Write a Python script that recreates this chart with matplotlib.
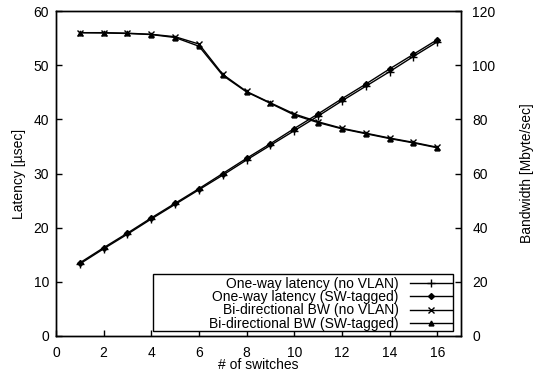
import matplotlib
matplotlib.use("Agg")
import matplotlib.pyplot as plt
from matplotlib.patches import Rectangle

switches = [1, 2, 3, 4, 5, 6, 7, 8, 9, 10, 11, 12, 13, 14, 15, 16]
lat_novlan = [13.3, 16.1, 18.8, 21.6, 24.3, 27.0, 29.7, 32.5, 35.2, 37.9, 40.6, 43.4, 46.1, 48.8, 51.6, 54.3]
lat_tagged = [13.5, 16.3, 19.0, 21.8, 24.5, 27.2, 30.0, 32.8, 35.5, 38.3, 41.0, 43.8, 46.5, 49.3, 52.0, 54.7]
bw_novlan = [112.0, 112.0, 111.8, 111.4, 110.5, 107.8, 96.6, 90.3, 86.1, 82.0, 79.1, 76.7, 74.9, 73.1, 71.5, 69.7]
bw_tagged = [112.0, 111.9, 111.7, 111.3, 110.2, 107.0, 96.2, 90.1, 85.9, 81.6, 78.8, 76.5, 74.7, 72.9, 71.3, 69.5]

plt.rcParams['font.family'] = ['Liberation Sans', 'DejaVu Sans']
plt.rcParams['font.size'] = 10

fig = plt.figure(figsize=(5.42, 3.73), dpi=100)
ax = fig.add_axes([0.1033, 0.0992, 0.7473, 0.8713])
ax2 = ax.twinx()

l1, = ax.plot(switches, lat_novlan, color='black', lw=1, marker='+', ms=6, mew=1)
l2, = ax.plot(switches, lat_tagged, color='black', lw=1, marker='D', ms=3)
l3, = ax2.plot(switches, bw_novlan, color='black', lw=1, marker='x', ms=5, mew=1)
l4, = ax2.plot(switches, bw_tagged, color='black', lw=1, marker='^', ms=3.5)

ax.set_xlim(0, 17)
ax.set_ylim(0, 60)
ax2.set_ylim(0, 120)
ax.set_xticks(range(0, 17, 2))
ax.set_yticks(range(0, 61, 10))
ax2.set_yticks(range(0, 121, 20))

ax.set_xlabel('# of switches', labelpad=-1)
ax.set_ylabel('Latency [\u00b5sec]', labelpad=5)
ax2.set_ylabel('Bandwidth [Mbyte/sec]', labelpad=18)

ax.tick_params(direction='in', length=4, width=1, pad=5)
ax.tick_params(axis='x', pad=7)
ax2.tick_params(direction='in', length=4, width=1, pad=8)
for a in (ax, ax2):
    for s in a.spines.values():
        s.set_linewidth(1)

leg = ax.legend([l1, l2, l3, l4],
                ['One-way latency (no VLAN)', 'One-way latency (SW-tagged)',
                 'Bi-directional BW (no VLAN)', 'Bi-directional BW (SW-tagged)'],
                loc='lower right', bbox_to_anchor=(0.98, 0.012), borderaxespad=0,
                markerfirst=False, frameon=False,
                handlelength=3.0, labelspacing=-0.05, borderpad=0.1, handletextpad=0.8,
                fontsize=10)
# gnuplot-style wide key box
ax.add_patch(Rectangle((0.2395, 0.016), 0.7405, 0.175, transform=ax.transAxes,
                       facecolor='white', edgecolor='black', lw=1, zorder=4.9))

fig.savefig('out.png', dpi=100)
